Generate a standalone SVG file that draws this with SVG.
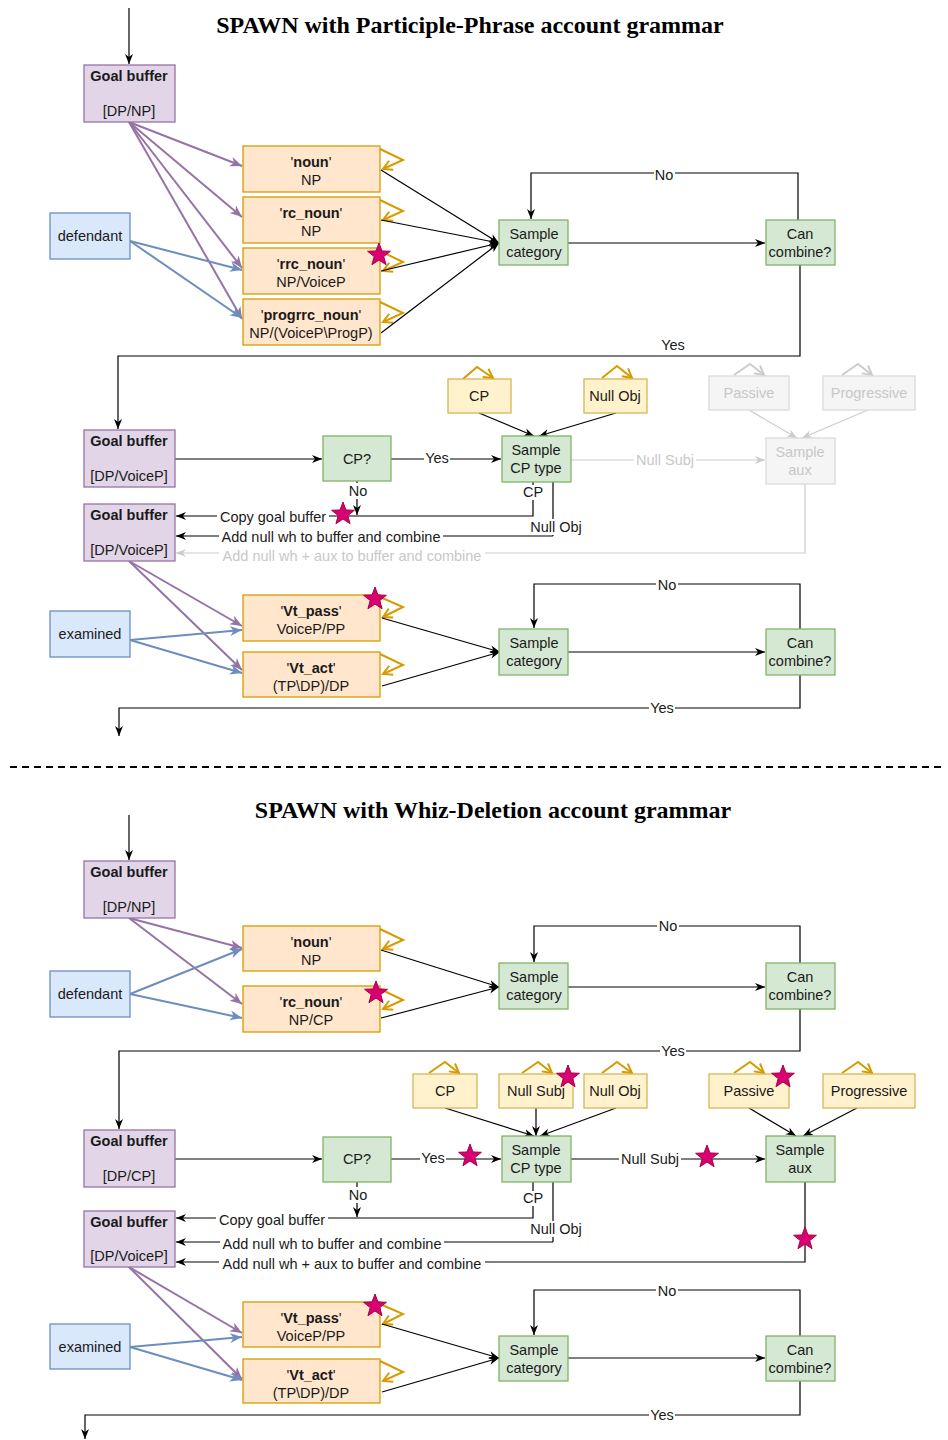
<svg xmlns="http://www.w3.org/2000/svg" width="948" height="1440" viewBox="0 0 948 1440">
<defs>
<style>
text{font-family:"Liberation Sans",Arial,sans-serif;font-size:14.5px;fill:#1a1a1a;text-anchor:middle}
.b{font-weight:bold}
.title{font-family:"Liberation Serif","Times New Roman",serif;font-size:24px;font-weight:bold;fill:#000}
.gb{fill:#e1d5e7;stroke:#9673a6;stroke-width:1.3}
.bl{fill:#dae8fc;stroke:#6c8ebf;stroke-width:1.3}
.or{fill:#ffe6cc;stroke:#d79b00;stroke-width:1.3}
.gr{fill:#d5e8d4;stroke:#82b366;stroke-width:1.3}
.ye{fill:#fff2cc;stroke:#d6b656;stroke-width:1.3}
.dis{fill:#f5f5f5;stroke:#dadada;stroke-width:1.3}
.dt{fill:#c8c8c8}
.k{fill:none;stroke:#000;stroke-width:1.2;marker-end:url(#ak)}
.kn{fill:none;stroke:#000;stroke-width:1.2}
.p{fill:none;stroke:#9673a6;stroke-width:2;marker-end:url(#ap)}
.u{fill:none;stroke:#6c8ebf;stroke-width:2;marker-end:url(#au)}
.g{fill:none;stroke:#cccccc;stroke-width:1.2;marker-end:url(#ag)}
.gn{fill:none;stroke:#cccccc;stroke-width:1.2}
.lo{fill:none;stroke:#d79b00;stroke-width:2;marker-end:url(#ao)}
.lg{fill:none;stroke:#cccccc;stroke-width:2;marker-end:url(#aog)}
.bg{fill:#fff}
.star{fill:#d80073;stroke:#a50040;stroke-width:1}
</style>
<marker id="ak" markerUnits="userSpaceOnUse" markerWidth="12" markerHeight="12" refX="10" refY="5" orient="auto"><path d="M0,1 L10,5 L0,9 L3,5 z" fill="#000"/></marker>
<marker id="ap" markerUnits="userSpaceOnUse" markerWidth="14" markerHeight="14" refX="12" refY="6" orient="auto"><path d="M0,1 L12,6 L0,11 L3.5,6 z" fill="#9673a6"/></marker>
<marker id="au" markerUnits="userSpaceOnUse" markerWidth="14" markerHeight="14" refX="12" refY="6" orient="auto"><path d="M0,1 L12,6 L0,11 L3.5,6 z" fill="#6c8ebf"/></marker>
<marker id="ag" markerUnits="userSpaceOnUse" markerWidth="12" markerHeight="12" refX="10" refY="5" orient="auto"><path d="M0,1 L10,5 L0,9 L3,5 z" fill="#cccccc"/></marker>
<marker id="ao" markerUnits="userSpaceOnUse" markerWidth="14" markerHeight="14" refX="10" refY="6" orient="auto"><path d="M1,1 L10,6 L1,11" fill="none" stroke="#d79b00" stroke-width="2"/></marker>
<marker id="aog" markerUnits="userSpaceOnUse" markerWidth="14" markerHeight="14" refX="10" refY="6" orient="auto"><path d="M1,1 L10,6 L1,11" fill="none" stroke="#cccccc" stroke-width="2"/></marker>
<polygon id="st" class="star" points="0,-12 2.94,-4.05 11.41,-3.71 4.76,1.55 7.05,9.71 0,5 -7.05,9.71 -4.76,1.55 -11.41,-3.71 -2.94,-4.05"/>
</defs>
<rect x="0" y="0" width="948" height="1440" fill="#fff"/>

<text class="title" x="470" y="33">SPAWN with Participle-Phrase account grammar</text>
<text class="title" x="493" y="818">SPAWN with Whiz-Deletion account grammar</text>
<line x1="10" y1="767" x2="945" y2="767" stroke="#000" stroke-width="2" stroke-dasharray="7,5"/>

<g id="connectors">
<!-- section 1 -->
<path class="k" d="M129,8 L129,64"/>
<path class="p" d="M129,122 L242,166"/>
<path class="p" d="M129,122 L242,217"/>
<path class="p" d="M129,122 L242,268"/>
<path class="p" d="M129,122 L242,319"/>
<path class="u" d="M130,241 L242,270"/>
<path class="u" d="M130,241 L242,318"/>
<path class="lo" d="M380,149 L403,160 L383,169"/>
<path class="lo" d="M380,200 L403,211 L383,220"/>
<path class="lo" d="M380,251 L403,262 L383,271"/>
<path class="lo" d="M380,302 L403,313 L383,322"/>
<path class="k" d="M381,170 L499,243"/>
<path class="k" d="M381,220 L499,243"/>
<path class="k" d="M381,271 L499,243"/>
<path class="k" d="M381,333 L499,243"/>
<path class="k" d="M568,243 L765,243"/>
<path class="k" d="M798,220 L798,173 L531,173 L531,219"/>
<path class="k" d="M800,265 L800,356 L118,356 L118,429"/>
<!-- section 2 -->
<path class="k" d="M175,459 L322,459"/>
<path class="k" d="M391,459 L501,459"/>
<path class="lo" d="M463,379 L477,367 L493,378"/>
<path class="lo" d="M602,378 L617,366 L632,378"/>
<path class="k" d="M479,413 L534,436"/>
<path class="k" d="M616,413 L539,436"/>
<path class="lg" d="M734,375 L750,364 L764,375"/>
<path class="lg" d="M842,375 L858,364 L872,375"/>
<path class="g" d="M749,410 L797,438"/>
<path class="g" d="M868,410 L802,438"/>
<path class="g" d="M571,460 L765,460"/>
<path class="k" d="M357,481 L357,515"/>
<path class="k" d="M533,482 L533,516 L176,516"/>
<path class="kn" d="M553,482 L553,536"/>
<path class="k" d="M553,536 L176,536"/>
<path class="g" d="M805,484 L805,553 L176,553"/>
<!-- section 2b -->
<path class="p" d="M129,561 L242,626"/>
<path class="p" d="M129,561 L242,670"/>
<path class="u" d="M130,640 L242,630"/>
<path class="u" d="M130,640 L242,673"/>
<path class="lo" d="M380,597 L403,607 L383,617"/>
<path class="lo" d="M380,654 L403,665 L383,674"/>
<path class="k" d="M382,618 L500,652"/>
<path class="k" d="M382,686 L500,652"/>
<path class="k" d="M568,652 L765,652"/>
<path class="k" d="M800,629 L800,584 L534,584 L534,628"/>
<path class="k" d="M800,675 L800,708 L119,708 L119,736"/>
<!-- section 3 -->
<path class="k" d="M129,815 L129,860"/>
<path class="p" d="M129,918 L242,948"/>
<path class="p" d="M129,918 L242,1004"/>
<path class="u" d="M130,994 L242,949"/>
<path class="u" d="M130,994 L242,1018"/>
<path class="lo" d="M380,929 L403,940 L383,949"/>
<path class="lo" d="M380,989 L403,1000 L383,1009"/>
<path class="k" d="M381,950 L499,987"/>
<path class="k" d="M381,1018 L499,987"/>
<path class="k" d="M568,987 L765,987"/>
<path class="k" d="M800,963 L800,926 L534,926 L534,962"/>
<path class="k" d="M800,1009 L800,1051 L119,1051 L119,1129"/>
<!-- section 4 -->
<path class="k" d="M175,1159 L322,1159"/>
<path class="k" d="M391,1159 L501,1159"/>
<path class="lo" d="M429,1073 L445,1062 L459,1073"/>
<path class="lo" d="M522,1073 L538,1062 L552,1073"/>
<path class="lo" d="M602,1073 L617,1062 L632,1073"/>
<path class="lo" d="M734,1073 L750,1062 L764,1073"/>
<path class="lo" d="M842,1073 L858,1062 L872,1073"/>
<path class="k" d="M445,1108 L534,1136"/>
<path class="k" d="M536,1108 L536,1136"/>
<path class="k" d="M616,1108 L540,1136"/>
<path class="k" d="M749,1108 L796,1136"/>
<path class="k" d="M857,1108 L803,1136"/>
<path class="k" d="M571,1159 L765,1159"/>
<path class="k" d="M805,1182 L805,1262 L176,1262"/>
<path class="k" d="M533,1182 L533,1218 L176,1218"/>
<path class="k" d="M357,1182 L357,1217"/>
<path class="kn" d="M553,1182 L553,1242"/>
<path class="k" d="M553,1242 L176,1242"/>
<!-- section 5 -->
<path class="p" d="M129,1267 L242,1333"/>
<path class="p" d="M129,1267 L242,1379"/>
<path class="u" d="M130,1347 L242,1337"/>
<path class="u" d="M130,1347 L242,1380"/>
<path class="lo" d="M380,1304 L403,1314 L383,1324"/>
<path class="lo" d="M380,1361 L403,1372 L383,1381"/>
<path class="k" d="M382,1324 L499,1358"/>
<path class="k" d="M382,1392 L499,1358"/>
<path class="k" d="M568,1358 L765,1358"/>
<path class="k" d="M800,1336 L800,1290 L534,1290 L534,1335"/>
<path class="k" d="M800,1381 L800,1415 L85,1415 L85,1439"/>
</g>

<g id="edge-labels">
<rect class="bg" x="654" y="166" width="21" height="16"/><text x="664" y="180">No</text>
<text x="673" y="350">Yes</text>
<rect class="bg" x="424" y="451" width="26" height="16"/><text x="437" y="463">Yes</text>
<rect class="bg" x="634" y="452" width="62" height="16"/><text class="dt" x="665" y="465">Null Subj</text>
<rect class="bg" x="347" y="483" width="22" height="16"/><text x="358" y="496">No</text>
<rect class="bg" x="522" y="485" width="22" height="15"/><text x="533" y="497">CP</text>
<rect class="bg" x="217" y="509" width="112" height="16"/><text x="273" y="522">Copy goal buffer</text>
<rect class="bg" x="528" y="519" width="56" height="16"/><text x="556" y="532">Null Obj</text>
<rect class="bg" x="219" y="529" width="224" height="16"/><text x="331" y="542">Add null wh to buffer and combine</text>
<rect class="bg" x="219" y="547" width="266" height="16"/><text class="dt" x="352" y="561">Add null wh + aux to buffer and combine</text>
<rect class="bg" x="656" y="577" width="22" height="16"/><text x="667" y="590">No</text>
<rect class="bg" x="649" y="700" width="26" height="16"/><text x="662" y="713">Yes</text>
<rect class="bg" x="657" y="918" width="22" height="16"/><text x="668" y="931">No</text>
<rect class="bg" x="660" y="1043" width="26" height="16"/><text x="673" y="1056">Yes</text>
<rect class="bg" x="420" y="1151" width="26" height="16"/><text x="433" y="1163">Yes</text>
<rect class="bg" x="619" y="1151" width="62" height="16"/><text x="650" y="1164">Null Subj</text>
<rect class="bg" x="347" y="1187" width="22" height="16"/><text x="358" y="1200">No</text>
<rect class="bg" x="522" y="1191" width="22" height="15"/><text x="533" y="1203">CP</text>
<rect class="bg" x="216" y="1212" width="112" height="16"/><text x="272" y="1225">Copy goal buffer</text>
<rect class="bg" x="528" y="1221" width="56" height="16"/><text x="556" y="1234">Null Obj</text>
<rect class="bg" x="220" y="1236" width="224" height="16"/><text x="332" y="1249">Add null wh to buffer and combine</text>
<rect class="bg" x="219" y="1256" width="266" height="16"/><text x="352" y="1269">Add null wh + aux to buffer and combine</text>
<rect class="bg" x="656" y="1283" width="22" height="16"/><text x="667" y="1296">No</text>
<rect class="bg" x="649" y="1407" width="26" height="16"/><text x="662" y="1420">Yes</text>
</g>

<!-- Section 1 nodes -->
<g id="gb1"><rect class="gb" x="84" y="65" width="91" height="57"/><text class="b" x="129" y="81">Goal buffer</text><text x="129" y="116">[DP/NP]</text></g>
<g id="def1"><rect class="bl" x="50" y="213" width="80" height="46"/><text x="90" y="241">defendant</text></g>
<g id="noun1"><rect class="or" x="243" y="146" width="137" height="46"/><text x="311" y="167">'<tspan class="b">noun</tspan>'</text><text x="311" y="185">NP</text></g>
<g id="rcnoun1"><rect class="or" x="243" y="197" width="137" height="46"/><text x="311" y="218">'<tspan class="b">rc_noun</tspan>'</text><text x="311" y="236">NP</text></g>
<g id="rrcnoun1"><rect class="or" x="243" y="248" width="137" height="46"/><text x="311" y="269">'<tspan class="b">rrc_noun</tspan>'</text><text x="311" y="287">NP/VoiceP</text></g>
<g id="progrrc1"><rect class="or" x="243" y="299" width="137" height="46"/><text x="311" y="320">'<tspan class="b">progrrc_noun</tspan>'</text><text x="311" y="338">NP/(VoiceP\ProgP)</text></g>
<g id="samp1"><rect class="gr" x="499" y="220" width="69" height="45"/><text x="534" y="239">Sample</text><text x="534" y="257">category</text></g>
<g id="comb1"><rect class="gr" x="766" y="220" width="69" height="45"/><text x="800" y="239">Can</text><text x="800" y="257">combine?</text></g>

<!-- Section 2 nodes -->
<g id="gb2"><rect class="gb" x="84" y="430" width="91" height="57"/><text class="b" x="129" y="446">Goal buffer</text><text x="129" y="481">[DP/VoiceP]</text></g>
<g id="cpq2"><rect class="gr" x="323" y="436" width="68" height="45"/><text x="357" y="464">CP?</text></g>
<g id="scp2"><rect class="gr" x="502" y="436" width="69" height="46"/><text x="536" y="455">Sample</text><text x="536" y="473">CP type</text></g>
<g id="cp2"><rect class="ye" x="448" y="379" width="63" height="34"/><text x="479" y="401">CP</text></g>
<g id="nobj2"><rect class="ye" x="584" y="379" width="63" height="34"/><text x="615" y="401">Null Obj</text></g>
<g id="pass2"><rect class="dis" x="709" y="376" width="80" height="34"/><text class="dt" x="749" y="398">Passive</text></g>
<g id="prog2"><rect class="dis" x="823" y="376" width="92" height="34"/><text class="dt" x="869" y="398">Progressive</text></g>
<g id="saux2"><rect class="dis" x="766" y="438" width="69" height="46"/><text class="dt" x="800" y="457">Sample</text><text class="dt" x="800" y="475">aux</text></g>
<g id="gb3"><rect class="gb" x="84" y="504" width="91" height="57"/><text class="b" x="129" y="520">Goal buffer</text><text x="129" y="555">[DP/VoiceP]</text></g>
<g id="exam1"><rect class="bl" x="50" y="611" width="80" height="46"/><text x="90" y="639">examined</text></g>
<g id="vtpass1"><rect class="or" x="243" y="595" width="137" height="46"/><text x="311" y="616">'<tspan class="b">Vt_pass</tspan>'</text><text x="311" y="634">VoiceP/PP</text></g>
<g id="vtact1"><rect class="or" x="243" y="652" width="137" height="45"/><text x="311" y="673">'<tspan class="b">Vt_act</tspan>'</text><text x="311" y="691">(TP\DP)/DP</text></g>
<g id="samp2"><rect class="gr" x="499" y="629" width="69" height="46"/><text x="534" y="648">Sample</text><text x="534" y="666">category</text></g>
<g id="comb2"><rect class="gr" x="766" y="629" width="69" height="46"/><text x="800" y="648">Can</text><text x="800" y="666">combine?</text></g>

<!-- Section 3 nodes -->
<g id="gb4"><rect class="gb" x="84" y="861" width="91" height="57"/><text class="b" x="129" y="877">Goal buffer</text><text x="129" y="912">[DP/NP]</text></g>
<g id="def2"><rect class="bl" x="50" y="971" width="80" height="46"/><text x="90" y="999">defendant</text></g>
<g id="noun2"><rect class="or" x="243" y="926" width="137" height="45"/><text x="311" y="947">'<tspan class="b">noun</tspan>'</text><text x="311" y="965">NP</text></g>
<g id="rcnoun2"><rect class="or" x="243" y="986" width="137" height="46"/><text x="311" y="1007">'<tspan class="b">rc_noun</tspan>'</text><text x="311" y="1025">NP/CP</text></g>
<g id="samp3"><rect class="gr" x="499" y="963" width="69" height="46"/><text x="534" y="982">Sample</text><text x="534" y="1000">category</text></g>
<g id="comb3"><rect class="gr" x="766" y="963" width="69" height="46"/><text x="800" y="982">Can</text><text x="800" y="1000">combine?</text></g>

<!-- Section 4 nodes -->
<g id="gb5"><rect class="gb" x="84" y="1130" width="91" height="57"/><text class="b" x="129" y="1146">Goal buffer</text><text x="129" y="1181">[DP/CP]</text></g>
<g id="cpq4"><rect class="gr" x="323" y="1137" width="68" height="45"/><text x="357" y="1164">CP?</text></g>
<g id="scp4"><rect class="gr" x="502" y="1136" width="69" height="46"/><text x="536" y="1155">Sample</text><text x="536" y="1173">CP type</text></g>
<g id="cp4"><rect class="ye" x="413" y="1074" width="64" height="34"/><text x="445" y="1096">CP</text></g>
<g id="nsubj4"><rect class="ye" x="499" y="1074" width="74" height="34"/><text x="536" y="1096">Null Subj</text></g>
<g id="nobj4"><rect class="ye" x="584" y="1074" width="63" height="34"/><text x="615" y="1096">Null Obj</text></g>
<g id="pass4"><rect class="ye" x="709" y="1074" width="80" height="34"/><text x="749" y="1096">Passive</text></g>
<g id="prog4"><rect class="ye" x="823" y="1074" width="92" height="34"/><text x="869" y="1096">Progressive</text></g>
<g id="saux4"><rect class="gr" x="766" y="1136" width="69" height="46"/><text x="800" y="1155">Sample</text><text x="800" y="1173">aux</text></g>
<g id="gb6"><rect class="gb" x="84" y="1211" width="91" height="56"/><text class="b" x="129" y="1227">Goal buffer</text><text x="129" y="1261">[DP/VoiceP]</text></g>

<!-- Section 5 nodes -->
<g id="exam2"><rect class="bl" x="50" y="1324" width="80" height="45"/><text x="90" y="1352">examined</text></g>
<g id="vtpass2"><rect class="or" x="243" y="1302" width="137" height="45"/><text x="311" y="1323">'<tspan class="b">Vt_pass</tspan>'</text><text x="311" y="1341">VoiceP/PP</text></g>
<g id="vtact2"><rect class="or" x="243" y="1359" width="137" height="44"/><text x="311" y="1380">'<tspan class="b">Vt_act</tspan>'</text><text x="311" y="1398">(TP\DP)/DP</text></g>
<g id="samp5"><rect class="gr" x="499" y="1336" width="69" height="45"/><text x="534" y="1355">Sample</text><text x="534" y="1373">category</text></g>
<g id="comb5"><rect class="gr" x="766" y="1336" width="69" height="45"/><text x="800" y="1355">Can</text><text x="800" y="1373">combine?</text></g>

<g id="stars">
<use href="#st" x="379" y="255"/>
<use href="#st" x="343" y="514"/>
<use href="#st" x="375" y="599"/>
<use href="#st" x="376" y="993"/>
<use href="#st" x="470" y="1156"/>
<use href="#st" x="568" y="1077"/>
<use href="#st" x="783" y="1077"/>
<use href="#st" x="707" y="1157"/>
<use href="#st" x="805" y="1239"/>
<use href="#st" x="375" y="1306"/>
</g>
</svg>
